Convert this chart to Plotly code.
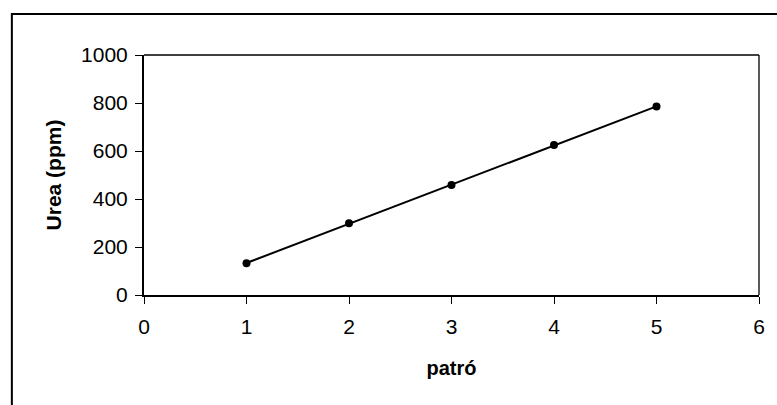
import numpy as np
import plotly.graph_objects as go

# Calibration standards and measured urea concentration
patro = [1, 2, 3, 4, 5]
urea_ppm = [132, 299, 458, 625, 785]

x_ticks = [0, 1, 2, 3, 4, 5, 6]
y_ticks = [0, 200, 400, 600, 800, 1000]

# Linear calibration trendline
slope, intercept = np.polyfit(patro, urea_ppm, 1)
fit_x = [patro[0], patro[-1]]
fit_y = [slope * v + intercept for v in fit_x]

FONT = "Liberation Sans, Arial, sans-serif"

fig = go.Figure()
fig.add_trace(go.Scatter(
    x=fit_x, y=fit_y, mode="lines",
    line=dict(color="black", width=2), hoverinfo="skip", showlegend=False,
))
fig.add_trace(go.Scatter(
    x=patro, y=urea_ppm, mode="markers",
    marker=dict(color="black", size=8, symbol="circle"), showlegend=False,
))

W, H = 777, 405
L, R, T, B = 144, 14, 55, 110
pw, ph = W - L - R, H - T - B

def px_to_paper_x(px):
    return (px - L) / pw

def px_to_paper_y(py):
    return (H - B - py) / ph

axis_common = dict(
    showgrid=False, zeroline=False, showline=True, linecolor="black", linewidth=2,
    ticks="outside", ticklen=7, tickwidth=1, tickcolor="black",
    tickfont=dict(family=FONT, size=21, color="black"),
)

fig.update_layout(
    width=W, height=H,
    margin=dict(l=L, r=R, t=T, b=B),
    paper_bgcolor="white", plot_bgcolor="white",
    xaxis=dict(range=[0, 6], tickvals=x_ticks, ticklabelstandoff=5,
               title=dict(text="<b>patró</b>", font=dict(family=FONT, size=20, color="black"), standoff=24),
               **axis_common),
    yaxis=dict(range=[0, 1000], tickvals=y_ticks, ticklabelstandoff=3,
               title=dict(text="<b>Urea (ppm)</b>", font=dict(family=FONT, size=21, color="black"), standoff=14),
               **axis_common),
    shapes=[
        # thin frame on the top and right of the plot area
        dict(type="line", xref="paper", yref="paper", x0=0, x1=1, y0=1, y1=1,
             line=dict(color="black", width=1.3)),
        dict(type="line", xref="paper", yref="paper", x0=1, x1=1, y0=0, y1=1,
             line=dict(color="black", width=1.3)),
        # outer chart border
        dict(type="rect", xref="paper", yref="paper",
             x0=px_to_paper_x(11), x1=px_to_paper_x(795),
             y0=px_to_paper_y(425), y1=px_to_paper_y(14),
             line=dict(color="black", width=2), fillcolor="rgba(0,0,0,0)"),
    ],
)

fig.write_html("out.html")
